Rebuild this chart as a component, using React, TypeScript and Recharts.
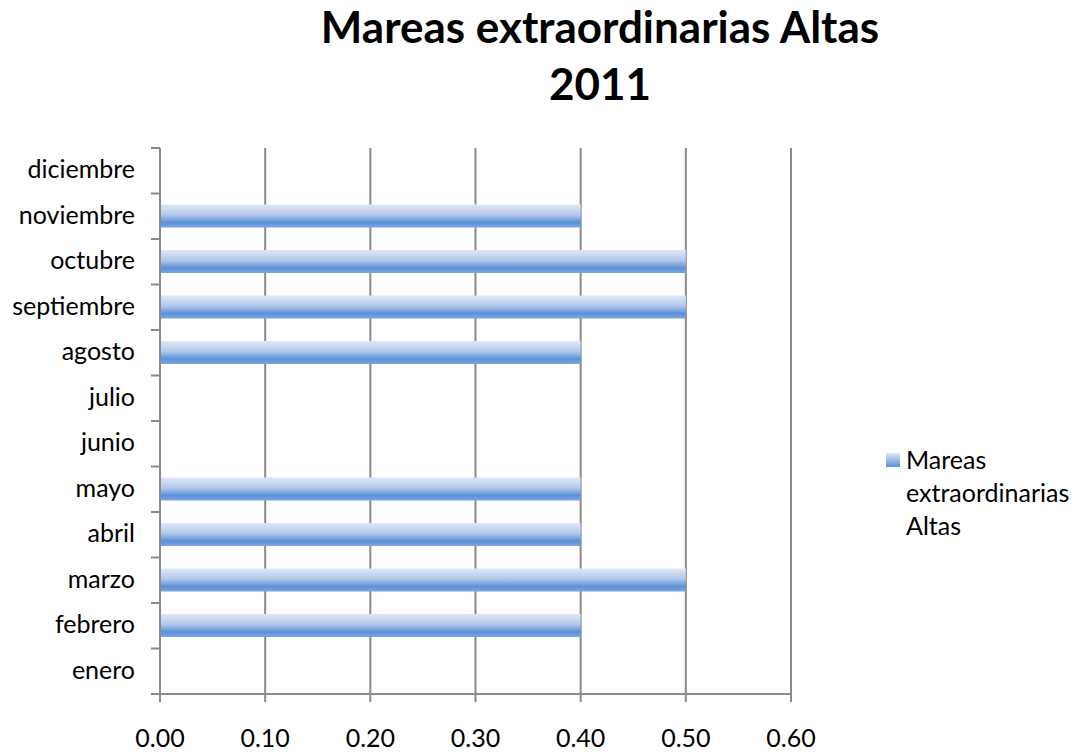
import React from 'react';
import { BarChart, Bar, XAxis, YAxis, CartesianGrid } from 'recharts';

const months = ['enero', 'febrero', 'marzo', 'abril', 'mayo', 'junio', 'julio', 'agosto', 'septiembre', 'octubre', 'noviembre', 'diciembre'];
const values = [0, 0.4, 0.5, 0.4, 0.4, 0, 0, 0.4, 0.5, 0.5, 0.4, 0];
const xTicks = [0, 0.1, 0.2, 0.3, 0.4, 0.5, 0.6];
const seriesName = 'Mareas extraordinarias Altas';
const titleLines = ['Mareas extraordinarias Altas', '2011'];

const data = months.map((m, i) => ({ month: m, value: values[i] }));

const W = 1078;
const H = 753;
const M = { top: 148, right: 287, bottom: 0, left: 10 };
const Y_W = 150;
const X_H = 59;
const PLOT_LEFT = M.left + Y_W;
const PLOT_H = H - M.top - M.bottom - X_H;
const SLOT = PLOT_H / months.length;
const GRAY = '#8a8a8a';
const FONT = 'Lato, "Open Sans", sans-serif';
const TICK_FS = 25;

const YTick = (props: any) => {
  const { x, y, payload, index } = props;
  return (
    <g>
      <line x1={PLOT_LEFT - 9} x2={PLOT_LEFT} y1={y - SLOT / 2} y2={y - SLOT / 2} stroke={GRAY} strokeWidth={2} />
      {index === 0 || payload.value === months[0] ? (
        <line x1={PLOT_LEFT - 9} x2={PLOT_LEFT} y1={y + SLOT / 2} y2={y + SLOT / 2} stroke={GRAY} strokeWidth={2} />
      ) : null}
      <text x={x} y={y} dy={7.5} textAnchor="end" fontSize={TICK_FS} fill="#000" fontFamily={FONT}>
        {payload.value}
      </text>
    </g>
  );
};

export default function App() {
  return (
    <div style={{ position: 'absolute', left: 0, top: 0, width: W, height: H, background: '#fff', fontFamily: FONT }}>
      <div style={{ position: 'absolute', left: 0, top: -2, width: 1200, textAlign: 'center', fontWeight: 700, fontSize: 44, lineHeight: '57px', color: '#000' }}>
        {titleLines.map((t) => (
          <div key={t}>{t}</div>
        ))}
      </div>
      <BarChart width={W} height={H} data={data} layout="vertical" margin={M} barSize={23}>
        <defs>
          <linearGradient id="barGrad" x1="0" y1="0" x2="0" y2="1">
            <stop offset="0%" stopColor="#e0e7f5" />
            <stop offset="45%" stopColor="#b3c8ec" />
            <stop offset="78%" stopColor="#5a91d8" />
            <stop offset="100%" stopColor="#7ea6e0" />
          </linearGradient>
        </defs>
        <CartesianGrid horizontal={false} vertical={true} stroke={GRAY} strokeWidth={2} />
        <XAxis
          type="number"
          domain={[0, 0.6]}
          ticks={xTicks}
          height={X_H}
          tickFormatter={(v: number) => v.toFixed(2)}
          stroke={GRAY}
          strokeWidth={2}
          tickSize={8}
          tickMargin={27}
          tick={{ fill: '#000', fontSize: TICK_FS, fontFamily: FONT }}
          interval={0}
        />
        <YAxis
          type="category"
          dataKey="month"
          reversed
          width={Y_W}
          stroke={GRAY}
          strokeWidth={2}
          tickLine={false}
          tickSize={0}
          tickMargin={25}
          interval={0}
          tick={<YTick />}
        />
        <Bar dataKey="value" name={seriesName} fill="url(#barGrad)" isAnimationActive={false} />
      </BarChart>
      <div style={{ position: 'absolute', left: 886, top: 443, fontSize: 25, lineHeight: '33px', color: '#000' }}>
        <div style={{ position: 'absolute', left: 0, top: 10, width: 14, height: 14, background: 'linear-gradient(#dfe6f4, #5a91d8)' }} />
        <div style={{ marginLeft: 20, width: 180 }}>
          Mareas<br />extraordinarias<br />Altas
        </div>
      </div>
    </div>
  );
}
